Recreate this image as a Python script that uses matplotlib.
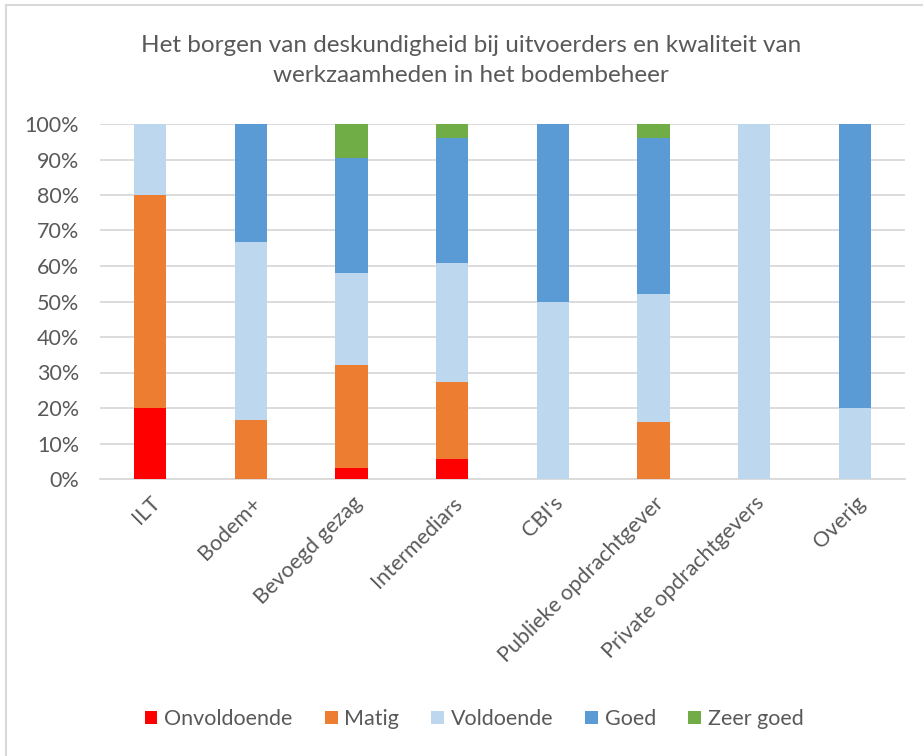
import matplotlib
matplotlib.use("Agg")
import matplotlib.pyplot as plt
import numpy as np
from matplotlib.lines import Line2D

plt.rcParams['font.family'] = ['Lato', 'DejaVu Sans']

categories = ["ILT", "Bodem+", "Bevoegd gezag", "Intermediars", "CBI's",
              "Publieke opdrachtgever", "Private opdrachtgevers", "Overig"]
onvoldoende = [20.0, 0.0, 3.2, 5.6, 0.0, 0.0, 0.0, 0.0]
matig       = [60.0, 16.7, 29.0, 21.6, 0.0, 16.0, 0.0, 0.0]
voldoende   = [20.0, 50.0, 25.8, 33.6, 50.0, 36.0, 100.0, 20.0]
goed        = [0.0, 33.3, 32.3, 35.3, 50.0, 44.0, 0.0, 80.0]
zeer_goed   = [0.0, 0.0, 9.7, 3.9, 0.0, 4.0, 0.0, 0.0]

series = [("Onvoldoende", onvoldoende, "#FF0000"),
          ("Matig", matig, "#ED7D31"),
          ("Voldoende", voldoende, "#BDD7EE"),
          ("Goed", goed, "#5B9BD5"),
          ("Zeer goed", zeer_goed, "#70AD47")]

fig = plt.figure(figsize=(9.23, 7.56), dpi=100)
ax = fig.add_axes([100/923, 1-479/756, 805/923, (479-124)/756])

x = np.arange(len(categories))
bottom = np.zeros(len(categories))
handles = []
for name, vals, col in series:
    vals = np.array(vals)
    b = ax.bar(x, vals, 0.32, bottom=bottom, color=col, label=name, zorder=3)
    handles.append(b)
    bottom += vals

ax.set_xlim(-0.5, len(categories) - 0.5)
ax.set_ylim(0, 100)
ax.set_yticks(np.arange(0, 101, 10))
ax.set_yticklabels([f"{v}%" for v in range(0, 101, 10)], fontsize=15.5, color="#595959")
ax.set_xticks(x)
ax.set_xticklabels(categories, rotation=45, ha="right", rotation_mode="anchor",
                   fontsize=15.5, color="#595959")
ax.tick_params(axis="y", length=0, pad=15)
ax.tick_params(axis="x", length=0, pad=10)
ax.grid(axis="y", color="#D9D9D9", linewidth=1.3, zorder=0)
for s in ["top", "right", "left"]:
    ax.spines[s].set_visible(False)
ax.spines["bottom"].set_color("#D9D9D9")
ax.spines["bottom"].set_linewidth(1.3)

fig.text(0.51, 1-45/756, "Het borgen van deskundigheid bij uitvoerders en kwaliteit van",
         ha="center", va="center", fontsize=17.5, color="#595959")
fig.text(0.51, 1-76/756, "werkzaamheden in het bodembeheer",
         ha="center", va="center", fontsize=17.5, color="#595959")

fig.legend(handles=handles, labels=[s[0] for s in series], loc="center",
           bbox_to_anchor=(474/923, 1-719/756), ncol=5, frameon=False,
           fontsize=15.5, labelcolor="#595959", handlelength=0.6, handleheight=0.6,
           handletextpad=0.3, columnspacing=1.5)

fig.add_artist(Line2D([6/923, 6/923], [0, 1-5/756], transform=fig.transFigure,
                      color="#D9D9D9", linewidth=1.5))
fig.add_artist(Line2D([6/923, 1], [1-5/756, 1-5/756], transform=fig.transFigure,
                      color="#D9D9D9", linewidth=1.5))

fig.savefig("out.png", dpi=100, facecolor="white")
